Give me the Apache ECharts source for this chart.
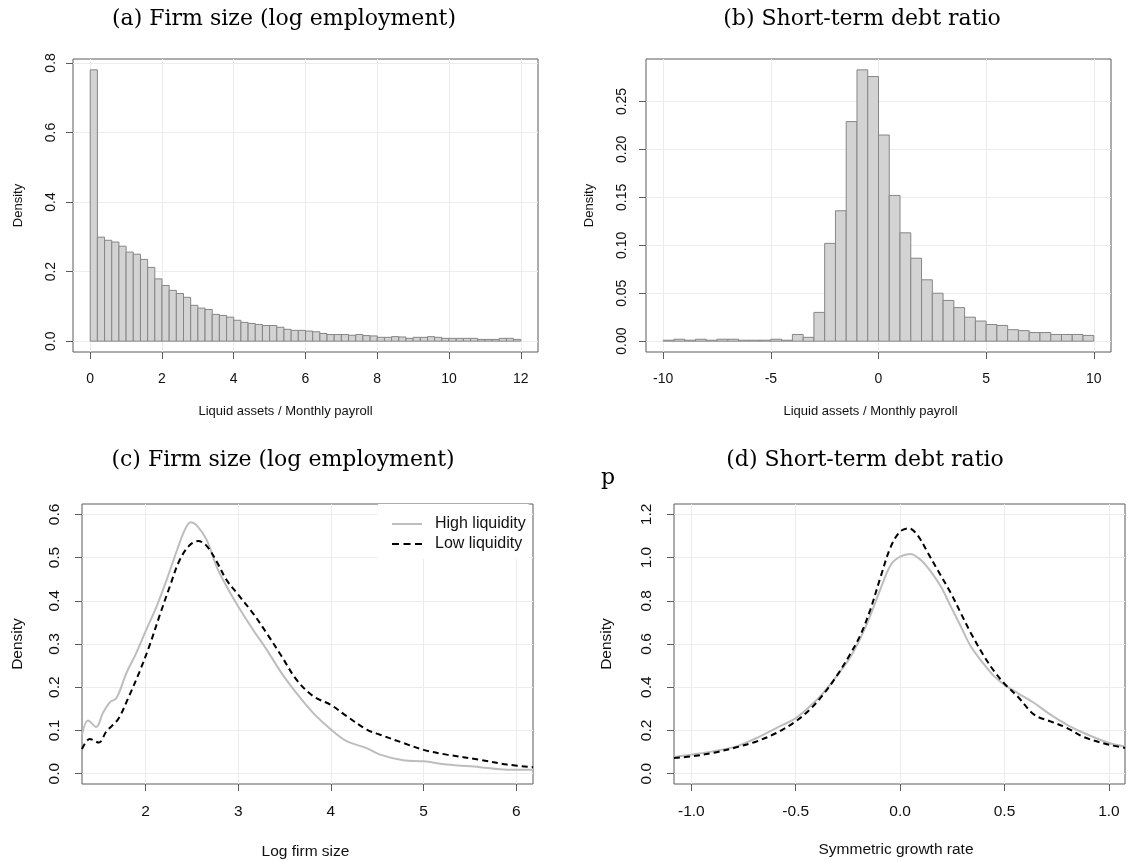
<!DOCTYPE html>
<html>
<head>
<meta charset="utf-8">
<script src="https://cdn.jsdelivr.net/npm/echarts@6/dist/echarts.min.js"></script>
<style>
html,body{margin:0;padding:0;background:#fff;}
#chart{width:1128px;height:861px;}
</style>
</head>
<body>
<div id="chart"></div>
<script>
// ---------- DATA ----------
// Panel (a): histogram, bins of width 0.2 starting at 0
const histABinStart = 0;
const histABinWidth = 0.2;
const histADensity = [
  0.78, 0.299, 0.290, 0.285, 0.273, 0.256, 0.250, 0.235, 0.212, 0.179,
  0.160, 0.146, 0.137, 0.126, 0.103, 0.095, 0.091, 0.077, 0.074, 0.069,
  0.060, 0.054, 0.051, 0.048, 0.045, 0.045, 0.040, 0.034, 0.031, 0.031,
  0.029, 0.027, 0.022, 0.019, 0.019, 0.019, 0.017, 0.019, 0.016, 0.015,
  0.011, 0.011, 0.013, 0.012, 0.008, 0.011, 0.011, 0.013, 0.011, 0.008,
  0.008, 0.008, 0.008, 0.008, 0.005, 0.005, 0.005, 0.008, 0.008, 0.005
];
const ticksAX = [0, 2, 4, 6, 8, 10, 12];
const ticksAY = [0, 0.2, 0.4, 0.6, 0.8];

// Panel (b): histogram, bins of width 0.5 starting at -10
const histBBinStart = -10;
const histBBinWidth = 0.5;
const histBDensity = [
  0.001, 0.002, 0.001, 0.002, 0.001, 0.002, 0.002, 0.001, 0.001, 0.001,
  0.002, 0.001, 0.007, 0.004, 0.030, 0.102, 0.136, 0.229, 0.283, 0.276,
  0.215, 0.152, 0.113, 0.0865, 0.064, 0.050, 0.0425, 0.035, 0.025, 0.021,
  0.0174, 0.0164, 0.012, 0.011, 0.009, 0.009, 0.007, 0.007, 0.007, 0.006
];
const ticksBX = [-10, -5, 0, 5, 10];
const ticksBY = [0, 0.05, 0.10, 0.15, 0.20, 0.25];

// Panel (c): densities of log firm size
const cHigh = [
  [1.315,0.09],[1.38,0.123],[1.468,0.108],[1.54,0.14],[1.615,0.165],[1.687,0.175],
  [1.795,0.233],[1.90,0.279],[2.0,0.329],[2.12,0.387],[2.227,0.448],[2.335,0.514],
  [2.424,0.564],[2.486,0.582],[2.55,0.575],[2.66,0.541],[2.767,0.479],[2.875,0.433],
  [3.0,0.387],[3.16,0.333],[3.307,0.287],[3.47,0.232],[3.63,0.186],[3.81,0.140],
  [4.0,0.102],[4.17,0.075],[4.386,0.059],[4.53,0.044],[4.78,0.031],[5.0,0.0285],
  [5.25,0.021],[5.61,0.015],[5.90,0.009],[6.18,0.009]
];
const cLow = [
  [1.315,0.057],[1.398,0.080],[1.496,0.072],[1.579,0.098],[1.704,0.126],[1.83,0.183],
  [1.938,0.237],[2.046,0.298],[2.154,0.367],[2.262,0.433],[2.37,0.495],[2.478,0.529],
  [2.568,0.5385],[2.659,0.527],[2.767,0.491],[2.875,0.448],[3.0,0.414],[3.16,0.371],
  [3.307,0.325],[3.47,0.271],[3.63,0.217],[3.81,0.179],[4.0,0.159],[4.17,0.133],
  [4.386,0.102],[4.53,0.090],[4.78,0.071],[5.0,0.055],[5.25,0.044],[5.61,0.032],
  [5.90,0.021],[6.18,0.015]
];
const ticksCX = [2, 3, 4, 5, 6];
const ticksCY = [0, 0.1, 0.2, 0.3, 0.4, 0.5, 0.6];

// Panel (d): densities of symmetric growth rate
const dHigh = [
  [-1.083,0.077],[-1.0,0.088],[-0.896,0.103],[-0.784,0.126],[-0.688,0.165],[-0.593,0.211],
  [-0.5,0.257],[-0.433,0.311],[-0.369,0.373],[-0.305,0.45],[-0.241,0.535],[-0.19,0.627],
  [-0.143,0.731],[-0.093,0.858],[-0.045,0.966],[0.0,1.004],[0.048,1.017],[0.099,0.989],
  [0.147,0.935],[0.195,0.866],[0.243,0.773],[0.291,0.681],[0.339,0.588],[0.403,0.504],
  [0.451,0.45],[0.5,0.411],[0.563,0.373],[0.642,0.327],[0.72,0.273],[0.80,0.226],
  [0.88,0.188],[1.0,0.142],[1.077,0.126]
];
const dLow = [
  [-1.083,0.072],[-1.0,0.080],[-0.896,0.096],[-0.784,0.122],[-0.688,0.149],[-0.593,0.188],
  [-0.5,0.242],[-0.433,0.296],[-0.369,0.365],[-0.305,0.45],[-0.241,0.55],[-0.19,0.642],
  [-0.143,0.758],[-0.093,0.912],[-0.045,1.05],[0.0,1.12],[0.043,1.135],[0.083,1.104],
  [0.13,1.027],[0.179,0.943],[0.243,0.835],[0.291,0.742],[0.339,0.65],[0.403,0.542],
  [0.451,0.473],[0.5,0.416],[0.563,0.357],[0.642,0.273],[0.72,0.242],[0.80,0.211],
  [0.88,0.169],[1.0,0.134],[1.077,0.119]
];
const ticksDX = [-1.0, -0.5, 0.0, 0.5, 1.0];
const ticksDY = [0, 0.2, 0.4, 0.6, 0.8, 1.0, 1.2];

const titles = [
  '(a) Firm size (log employment)',
  '(b) Short-term debt ratio',
  '(c) Firm size (log employment)',
  '(d) Short-term debt ratio'
];
const xNames = ['Liquid assets / Monthly payroll', 'Liquid assets / Monthly payroll', 'Log firm size', 'Symmetric growth rate'];
const yName = 'Density';
const legendNames = ['High liquidity', 'Low liquidity'];

// ---------- BUILD ----------
function toBins(start, width, dens) {
  return dens.map((d, i) => [start + i * width, start + (i + 1) * width, d]);
}
const SANS = 'Liberation Sans, Arial, sans-serif';
const SERIF = 'DejaVu Serif, serif';
const BOX = '#5a5a5a';
const GRID = '#ececec';

function xAx(idx, min, max, ticks, dec, name, fs, nfs, margin, nameGap, namePad) {
  return {
    type: 'value', gridIndex: idx, min: min, max: max,
    name: name, nameLocation: 'middle', nameGap: nameGap,
    nameTextStyle: { fontFamily: SANS, fontSize: nfs, color: '#111', padding: namePad },
    axisLine: { show: false, onZero: false },
    axisTick: { show: true, inside: false, length: 7, customValues: ticks, lineStyle: { color: BOX } },
    axisLabel: { customValues: ticks, margin: margin, fontFamily: SANS, fontSize: fs, color: '#111',
      formatter: v => Number(v).toFixed(dec) },
    splitLine: { show: true, lineStyle: { color: GRID, width: 1 } }
  };
}
function yAx(idx, min, max, ticks, dec, fs, nfs, margin, nameGap) {
  return {
    type: 'value', gridIndex: idx, min: min, max: max,
    name: yName, nameLocation: 'middle', nameGap: nameGap,
    nameTextStyle: { fontFamily: SANS, fontSize: nfs, color: '#111' },
    axisLine: { show: false, onZero: false },
    axisTick: { show: true, inside: false, length: 7, customValues: ticks, lineStyle: { color: BOX } },
    axisLabel: { customValues: ticks, rotate: 90, margin: margin, fontFamily: SANS, fontSize: fs, color: '#111',
      formatter: v => Number(v).toFixed(dec) },
    splitLine: { show: true, lineStyle: { color: GRID, width: 1 } }
  };
}
function histSeries(idx, data) {
  return {
    type: 'custom', xAxisIndex: idx, yAxisIndex: idx, data: data,
    encode: { x: [0, 1], y: 2 },
    renderItem: function (params, api) {
      const p0 = api.coord([api.value(0), api.value(2)]);
      const p1 = api.coord([api.value(1), 0]);
      return {
        type: 'rect',
        shape: { x: p0[0], y: p0[1], width: p1[0] - p0[0], height: p1[1] - p0[1] },
        style: { fill: '#d3d3d3', stroke: '#868686', lineWidth: 1 }
      };
    },
    silent: true, animation: false
  };
}
function lineSeries(idx, name, data, dashed) {
  return {
    type: 'line', name: name, xAxisIndex: idx, yAxisIndex: idx, data: data,
    smooth: 0.35, symbol: 'none', showSymbol: false,
    lineStyle: dashed ? { color: '#000', width: 2, type: [6, 4] } : { color: '#bdbdbd', width: 2 },
    itemStyle: { color: dashed ? '#000' : '#bdbdbd' },
    animation: false, silent: true
  };
}

const gridStyle = { show: true, borderColor: BOX, borderWidth: 1, backgroundColor: 'transparent' };
const titleStyle = { font: '22px ' + SERIF, fill: '#000', align: 'center', verticalAlign: 'middle', textAlign: 'center', textVerticalAlign: 'middle' };
const option = {
  backgroundColor: '#fff',
  animation: false,
  grid: [
    Object.assign({ left: 73, top: 59, width: 465, height: 293 }, gridStyle),
    Object.assign({ left: 646, top: 59, width: 465, height: 293 }, gridStyle),
    Object.assign({ left: 82, top: 504, width: 451, height: 280 }, gridStyle),
    Object.assign({ left: 674, top: 504, width: 451, height: 280 }, gridStyle)
  ],
  xAxis: [
    xAx(0, -0.48, 12.48, ticksAX, 0, xNames[0], 14, 13, 20, 53, [0, 40, 0, 0]),
    xAx(1, -10.8, 10.8, ticksBX, 0, xNames[1], 14, 13, 20, 53, [0, 16, 0, 0]),
    xAx(2, 1.315, 6.18, ticksCX, 0, xNames[2], 15.5, 15.5, 20, 60, [0, 4, 0, 0]),
    xAx(3, -1.083, 1.077, ticksDX, 1, xNames[3], 15.5, 15.5, 20, 58, [0, 7, 0, 0])
  ],
  yAxis: [
    yAx(0, -0.0312, 0.8112, ticksAY, 1, 14, 13, 15, 48),
    yAx(1, -0.0113, 0.2943, ticksBY, 2, 14, 13, 17, 50),
    yAx(2, -0.024, 0.624, ticksCY, 1, 15.5, 15.5, 19, 56),
    yAx(3, -0.048, 1.248, ticksDY, 1, 15.5, 15.5, 19, 59)
  ],
  legend: {
    data: [
      { name: legendNames[0], icon: 'path://M0,0h30v2h-30z' },
      { name: legendNames[1], icon: 'path://M0,0h7v2h-7z M11.5,0h7v2h-7z M23,0h7v2h-7z' }
    ],
    orient: 'vertical', left: 378, top: 504,
    backgroundColor: '#fff', padding: [12, 3, 7, 14], itemGap: 4,
    itemWidth: 30, itemHeight: 2,
    textStyle: { fontFamily: SANS, fontSize: 16, color: '#111', padding: [0, 0, 0, 8] }
  },
  series: [
    histSeries(0, toBins(histABinStart, histABinWidth, histADensity)),
    histSeries(1, toBins(histBBinStart, histBBinWidth, histBDensity)),
    lineSeries(2, legendNames[0], cHigh, false),
    lineSeries(2, legendNames[1], cLow, true),
    lineSeries(3, legendNames[0], dHigh, false),
    lineSeries(3, legendNames[1], dLow, true)
  ],
  graphic: [
    { type: 'text', x: 284, y: 19, style: Object.assign({ text: titles[0] }, titleStyle) },
    { type: 'text', x: 862, y: 19, style: Object.assign({ text: titles[1] }, titleStyle) },
    { type: 'text', x: 283, y: 460, style: Object.assign({ text: titles[2] }, titleStyle) },
    { type: 'text', x: 865, y: 460, style: Object.assign({ text: titles[3] }, titleStyle) },
    { type: 'text', x: 608, y: 478, style: Object.assign({ text: 'p' }, titleStyle) }
  ]
};
const chart = echarts.init(document.getElementById('chart'), null, { renderer: 'canvas' });
chart.setOption(option);
</script>
</body>
</html>
